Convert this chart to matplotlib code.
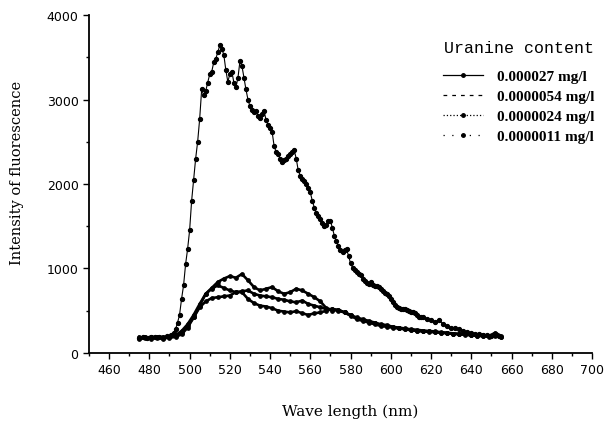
import matplotlib
matplotlib.use("Agg")
import matplotlib.pyplot as plt
from matplotlib.ticker import MultipleLocator

# wavelength / intensity
wl_big = [475, 477, 479, 481, 483, 485, 487, 489, 491, 492, 493, 494, 495, 496, 497,
          498, 499, 500, 501, 502, 503, 504, 505, 506, 507, 508, 509, 510, 511, 512,
          513, 514, 515, 516, 517, 518, 519, 520, 521, 522, 523, 524, 525, 526, 527,
          528, 529, 530, 531, 532, 533, 534, 535, 536, 537, 538, 539, 540, 541, 542,
          543, 544, 545, 546, 547, 548, 549, 550, 551, 552, 553, 554, 555, 556, 557,
          558, 559, 560, 561, 562, 563, 564, 565, 566, 567, 568, 569, 570, 571, 572,
          573, 574, 575, 576, 577, 578, 579, 580, 581, 582, 583, 584, 585, 586, 587,
          588, 589, 590, 591, 592, 593, 594, 595, 596, 597, 598, 599, 600, 601, 602,
          603, 604, 605, 606, 607, 608, 609, 610, 611, 612, 613, 614, 615, 616, 618,
          620, 622, 624, 626, 628, 630, 632, 634, 636, 638, 640, 642, 644, 646, 648,
          650, 652, 654]
int_big = [180, 190, 175, 195, 185, 190, 180, 200, 210, 240, 280, 360, 450, 640, 800,
           1050, 1230, 1450, 1800, 2050, 2300, 2500, 2770, 3120, 3050, 3100, 3200, 3300, 3330, 3440,
           3480, 3560, 3640, 3600, 3530, 3350, 3210, 3300, 3330, 3200, 3150, 3250, 3450, 3400, 3260,
           3120, 3000, 2920, 2880, 2850, 2860, 2800, 2780, 2830, 2860, 2760, 2700, 2660, 2620, 2450,
           2380, 2350, 2300, 2260, 2280, 2300, 2330, 2350, 2380, 2400, 2300, 2160, 2100, 2060, 2030,
           2000, 1950, 1900, 1800, 1720, 1660, 1620, 1580, 1540, 1500, 1520, 1560, 1560, 1480, 1380,
           1320, 1270, 1220, 1200, 1220, 1230, 1150, 1060, 1010, 980, 960, 935, 920, 880, 850,
           830, 820, 840, 810, 790, 790, 780, 760, 730, 710, 700, 680, 640, 600, 570,
           550, 530, 520, 525, 520, 510, 500, 490, 480, 470, 450, 430, 425, 420, 400,
           385, 370, 390, 340, 320, 300, 290, 280, 260, 250, 240, 230, 220, 215, 210,
           205, 230, 200]

wl_low = [475, 478, 481, 484, 487, 490, 493, 496, 499, 502, 505, 508, 511, 514, 517,
          520, 523, 526, 529, 532, 535, 538, 541, 544, 547, 550, 553, 556, 559, 562,
          565, 568, 571, 574, 577, 580, 583, 586, 589, 592, 595, 598, 601, 604, 607,
          610, 613, 616, 619, 622, 625, 628, 631, 634, 637, 640, 643, 646, 649, 652, 655]
int_054 = [170, 185, 175, 190, 180, 190, 200, 240, 320, 420, 560, 700, 770, 840, 880,
           910, 890, 935, 860, 780, 740, 760, 780, 730, 700, 720, 760, 740, 700, 660,
           610, 530, 500, 510, 480, 450, 420, 400, 380, 360, 340, 330, 310, 300, 290,
           280, 275, 265, 260, 255, 245, 240, 230, 225, 220, 215, 215, 210, 205, 240, 200]
int_024 = [190, 175, 195, 180, 170, 185, 210, 260, 340, 450, 580, 700, 760, 800, 770,
           740, 720, 730, 740, 700, 680, 670, 660, 640, 630, 610, 600, 620, 580, 560,
           540, 520, 520, 500, 480, 440, 410, 390, 370, 350, 335, 320, 305, 295, 285,
           275, 265, 260, 255, 250, 240, 235, 228, 222, 215, 210, 205, 200, 200, 215, 195]
int_011 = [180, 190, 170, 185, 195, 180, 190, 220, 300, 420, 540, 610, 650, 660, 670,
           680, 720, 720, 640, 590, 560, 550, 530, 500, 490, 480, 495, 470, 450, 470,
           480, 500, 520, 510, 480, 450, 400, 380, 360, 340, 320, 310, 300, 290, 280,
           270, 260, 255, 250, 245, 240, 235, 230, 225, 220, 210, 205, 200, 195, 200, 185]

labels = ["0.000027 mg/l", "0.0000054 mg/l", "0.0000024 mg/l", "0.0000011 mg/l"]

fig = plt.figure(figsize=(6.16, 4.27), dpi=100)
ax = fig.add_axes([0.1445, 0.171, 0.8165, 0.7915])

l1, = ax.plot(wl_big, int_big, '-', color='black', lw=0.8, marker='o', markersize=2.8)
l2, = ax.plot(wl_low, int_054, '-', color='black', lw=1.9, marker='o', markersize=2.4)
l3, = ax.plot(wl_low, int_024, '-', color='black', lw=1.9, marker='o', markersize=2.4)
l4, = ax.plot(wl_low, int_011, '-', color='black', lw=1.9, marker='o', markersize=2.4)

ax.set_xlim(450, 700)
ax.set_ylim(0, 4000)
ax.xaxis.set_minor_locator(MultipleLocator(10))
ax.set_xticks(range(460, 701, 20))
ax.yaxis.set_major_locator(MultipleLocator(1000))
ax.yaxis.set_minor_locator(MultipleLocator(500))
ax.tick_params(which='major', direction='out', length=4, width=1, labelsize=9)
ax.tick_params(which='minor', direction='out', length=2.5, width=1)
for s in ['top', 'right']:
    ax.spines[s].set_visible(False)
for s in ['left', 'bottom']:
    ax.spines[s].set_linewidth(1.3)

ax.set_xlabel("Wave length (nm)", family='DejaVu Serif', fontsize=11)
ax.set_ylabel("Intensity of fluorescence", family='DejaVu Serif', fontsize=10.5)
ax.xaxis.set_label_coords(0.519, -0.15)
ax.yaxis.set_label_coords(-0.129, 0.535)

leg = ax.legend([l1, l2, l3, l4], labels, loc='upper left', bbox_to_anchor=(0.704, 0.925),
                frameon=False, borderpad=0, borderaxespad=0,
                handlelength=2.6, handletextpad=0.9, labelspacing=0.42,
                prop={'family': 'Liberation Serif', 'weight': 'bold', 'size': 11},
                title="Uranine content",
                title_fontproperties={'family': 'Liberation Mono', 'size': 12})
leg._legend_box.sep = 10
styles = [('-', 'o'), ((0, (3, 4)), ''), (':', 'o'), ((0, (1, 6)), 'o')]
for h, (ls, mk) in zip(leg.legend_handles, styles):
    h.set_linestyle(ls)
    h.set_linewidth(0.9)
    h.set_marker(mk)
    h.set_markersize(2.5)

fig.savefig("out.png", dpi=100)
